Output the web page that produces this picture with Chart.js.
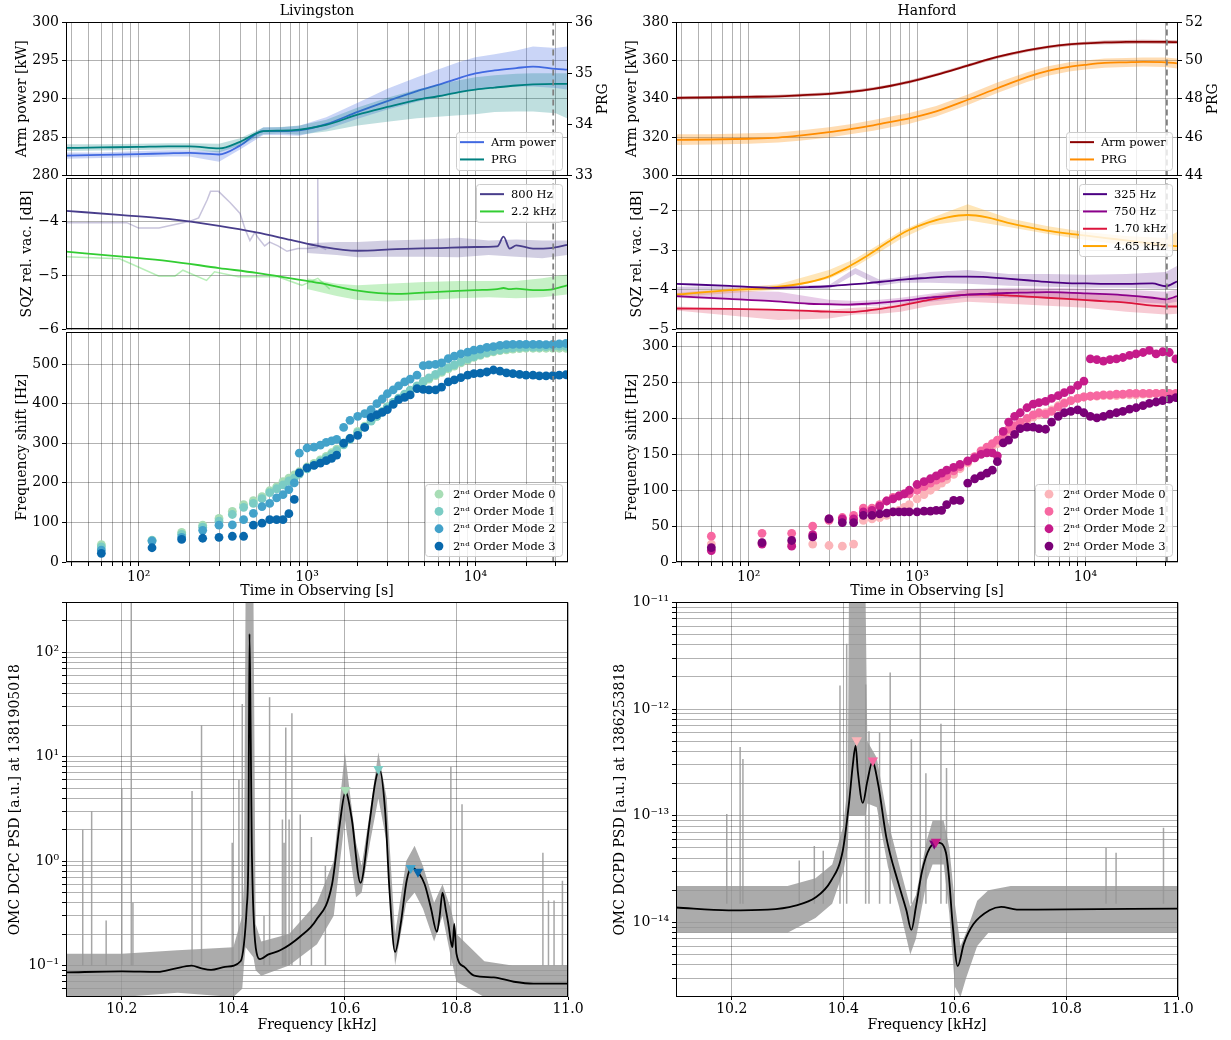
<!DOCTYPE html>
<html>
<head>
<meta charset="utf-8">
<script src="https://cdn.jsdelivr.net/npm/chart.js@4.4.1/dist/chart.umd.min.js"></script>
<style>
  html, body { margin: 0; padding: 0; background: #fff; }
  body { width: 1231px; height: 1040px; position: relative; overflow: hidden; }
  canvas { position: absolute; }
</style>
</head>
<body>
<canvas id="livPower"></canvas>
<canvas id="livSqz"></canvas>
<canvas id="livShift"></canvas>
<canvas id="livPsd"></canvas>
<canvas id="hanPower"></canvas>
<canvas id="hanSqz"></canvas>
<canvas id="hanShift"></canvas>
<canvas id="hanPsd"></canvas>
<script>
// ---------- time axis (shared by the six upper panels) ----------
const timeMin = 37, timeMax = 35500;
const timeTicks = [40, 50, 60, 70, 80, 90, 100, 200, 300, 400, 500, 600, 700, 800, 900,
  1000, 2000, 3000, 4000, 5000, 6000, 7000, 8000, 9000, 10000, 20000, 30000];
const livDashTime = 29000;
const hanDashTime = 30500;

// y tick values
const livPowerTicks = [280, 285, 290, 295, 300];
const livPrgTicks = [33, 34, 35, 36];
const livSqzTicks = [-6, -5, -4];
const livShiftTicks = [0, 100, 200, 300, 400, 500];
const hanPowerTicks = [300, 320, 340, 360, 380];
const hanPrgTicks = [44, 46, 48, 50, 52];
const hanSqzTicks = [-5, -4, -3, -2];
const hanShiftTicks = [0, 50, 100, 150, 200, 250, 300];

// ---------- arm power / PRG ----------
const tGrid = [37, 60, 100, 150, 200, 300, 400, 550, 700, 900, 1300, 2000, 3000, 4500, 6000, 8000, 10000, 13000, 17500, 22000, 30000, 35000];
const livArm   = [282.6, 282.7, 282.8, 282.9, 282.95, 282.75, 283.9, 285.8, 285.8, 285.9, 286.7, 288.3, 289.7, 291.0, 291.8, 292.7, 293.3, 293.7, 294.0, 294.2, 293.9, 293.8];
const livArmHi = [283.0, 283.0, 283.2, 283.3, 283.3, 283.2, 284.3, 286.3, 286.3, 286.5, 287.6, 289.5, 291.3, 292.8, 293.8, 294.8, 295.4, 295.8, 296.3, 296.8, 296.6, 296.8];
const livArmLo = [282.2, 282.3, 282.4, 282.5, 282.5, 281.8, 283.4, 285.3, 285.3, 285.2, 286.0, 287.4, 288.6, 289.6, 290.2, 290.8, 291.2, 291.4, 291.6, 291.6, 291.4, 291.2];
const livPrg   = [33.54, 33.55, 33.56, 33.57, 33.57, 33.53, 33.66, 33.87, 33.88, 33.9, 33.99, 34.19, 34.34, 34.48, 34.55, 34.63, 34.68, 34.72, 34.76, 34.78, 34.79, 34.79];
const livPrgHi = [33.61, 33.61, 33.62, 33.63, 33.63, 33.62, 33.73, 33.94, 33.95, 33.98, 34.09, 34.33, 34.52, 34.68, 34.78, 34.86, 34.92, 34.96, 34.99, 35.0, 35.0, 35.0];
const livPrgLo = [33.48, 33.49, 33.5, 33.51, 33.51, 33.45, 33.59, 33.81, 33.82, 33.8, 33.86, 33.98, 34.05, 34.12, 34.15, 34.18, 34.2, 34.24, 34.25, 34.25, 34.22, 34.12];

const hanArm   = [340.5, 340.7, 341.0, 341.3, 341.8, 342.6, 343.6, 345.2, 346.8, 348.8, 352.5, 357.3, 361.8, 365.2, 367.0, 368.3, 368.9, 369.4, 369.6, 369.7, 369.6, 369.5];
const hanArmHi = [341.3, 341.5, 341.8, 342.1, 342.6, 343.4, 344.4, 346.0, 347.6, 349.6, 353.3, 358.1, 362.6, 366.0, 367.8, 369.1, 369.7, 370.4, 370.6, 370.7, 370.6, 370.5];
const hanArmLo = [339.7, 339.9, 340.2, 340.5, 341.0, 341.8, 342.8, 344.4, 346.0, 348.0, 351.7, 356.5, 361.0, 364.4, 366.2, 367.5, 368.1, 368.4, 368.6, 368.7, 368.6, 368.5];
const hanPrg   = [45.86, 45.88, 45.92, 45.98, 46.08, 46.26, 46.42, 46.62, 46.8, 46.98, 47.35, 47.95, 48.55, 49.13, 49.45, 49.66, 49.77, 49.87, 49.9, 49.92, 49.9, 49.85];
const hanPrgHi = [46.15, 46.15, 46.2, 46.25, 46.35, 46.52, 46.68, 46.9, 47.08, 47.26, 47.62, 48.22, 48.85, 49.38, 49.7, 49.9, 50.0, 50.1, 50.12, 50.15, 50.15, 50.1];
const hanPrgLo = [45.6, 45.62, 45.66, 45.72, 45.82, 45.99, 46.15, 46.34, 46.52, 46.7, 47.08, 47.68, 48.3, 48.88, 49.2, 49.42, 49.52, 49.62, 49.66, 49.68, 49.65, 49.58];

// ---------- squeezing, Livingston ----------
const lSqzTime = [37, 80, 150, 300, 500, 800, 1200, 2000, 3400, 6000, 10000, 13500, 14700, 16000, 17500, 22000, 28000, 35000];
const l800  = [-3.80, -3.88, -3.95, -4.08, -4.20, -4.34, -4.46, -4.54, -4.51, -4.49, -4.47, -4.46, -4.28, -4.50, -4.44, -4.50, -4.49, -4.43];
const l2200 = [-4.555, -4.65, -4.73, -4.86, -4.95, -5.05, -5.14, -5.28, -5.34, -5.30, -5.27, -5.25, -5.23, -5.25, -5.24, -5.27, -5.26, -5.18];
const rawL800Time = [37, 85, 100, 132, 204, 227, 255, 267, 298, 350, 400, 430, 458, 490, 512, 560, 600, 672, 760, 883, 1000, 1150, 1155, 1160, 1165, 1300];
const rawL800 = [-4.02, -4.02, -4.12, -4.12, -3.99, -3.93, -3.6, -3.44, -3.44, -3.65, -3.85, -4.15, -4.35, -4.2, -4.3, -4.45, -4.38, -4.45, -4.55, -4.5, -4.5, -4.48, -3.1, -3.1, -4.45, -4.52];
const rawL2200Time = [37, 77, 90, 132, 164, 183, 253, 282, 391, 672, 931, 1159, 1365];
const rawL2200 = [-4.65, -4.69, -4.78, -5.01, -5.01, -4.9, -5.09, -4.93, -5.02, -5.02, -5.18, -5.05, -5.25];
const lBandTime = [1000, 1500, 2000, 3000, 5000, 8000, 12000, 17500, 25000, 35000];
const l800Hi  = [-4.4, -4.38, -4.38, -4.35, -4.33, -4.3, -4.35, -4.33, -4.35, -4.35];
const l800Lo  = [-4.58, -4.62, -4.66, -4.65, -4.65, -4.66, -4.62, -4.65, -4.68, -4.62];
const l2200Hi = [-5.05, -5.15, -5.18, -5.15, -5.12, -5.1, -5.1, -5.1, -5.05, -4.98];
const l2200Lo = [-5.25, -5.38, -5.45, -5.48, -5.45, -5.42, -5.4, -5.42, -5.4, -5.35];

// ---------- squeezing, Hanford ----------
const hSqzTime = [37, 77, 132, 227, 298, 391, 512, 672, 883, 1160, 1515, 1995, 2610, 3430, 4500, 5900, 7740, 10170, 13300, 17500, 25000, 30000, 35000];
const h325  = [-3.85, -3.90, -3.95, -3.93, -3.91, -3.87, -3.83, -3.78, -3.73, -3.70, -3.67, -3.67, -3.68, -3.72, -3.76, -3.80, -3.83, -3.84, -3.85, -3.85, -3.84, -3.91, -3.79];
const h750  = [-4.16, -4.23, -4.28, -4.35, -4.36, -4.37, -4.35, -4.31, -4.26, -4.20, -4.16, -4.12, -4.10, -4.08, -4.07, -4.06, -4.07, -4.09, -4.11, -4.14, -4.20, -4.24, -4.16];
const h1700 = [-4.47, -4.48, -4.50, -4.53, -4.55, -4.56, -4.52, -4.45, -4.36, -4.26, -4.18, -4.12, -4.12, -4.14, -4.17, -4.20, -4.23, -4.26, -4.29, -4.32, -4.40, -4.42, -4.42];
const h4650 = [-4.12, -4.01, -3.95, -3.81, -3.67, -3.42, -3.13, -2.80, -2.51, -2.31, -2.18, -2.12, -2.18, -2.31, -2.42, -2.51, -2.58, -2.64, -2.70, -2.76, -2.84, -2.88, -2.90];
const hBandTime = [37, 150, 300, 430, 600, 800, 1200, 2000, 3500, 6000, 10000, 17500, 30000, 35000];
const h325Hi  = [-3.92, -3.9, -3.88, -3.45, -3.75, -3.68, -3.55, -3.5, -3.6, -3.6, -3.62, -3.6, -3.55, -3.4];
const h325Lo  = [-3.98, -3.98, -3.98, -3.6, -3.9, -3.82, -3.82, -3.85, -3.9, -3.92, -3.95, -3.95, -3.98, -3.95];
const h750Hi  = [-4.0, -4.05, -4.25, -4.28, -4.25, -4.2, -4.1, -3.98, -3.95, -3.95, -3.97, -4.0, -4.05, -4.0];
const h750Lo  = [-4.2, -4.3, -4.4, -4.4, -4.4, -4.35, -4.3, -4.2, -4.2, -4.22, -4.25, -4.3, -4.35, -4.3];
const h1700Hi = [-4.42, -4.5, -4.5, -4.45, -4.42, -4.35, -4.15, -4.0, -4.0, -4.02, -4.08, -4.12, -4.2, -4.2];
const h1700Lo = [-4.52, -4.76, -4.72, -4.62, -4.6, -4.55, -4.4, -4.3, -4.35, -4.4, -4.45, -4.55, -4.62, -4.6];
const h4650Hi = [-4.08, -3.86, -3.5, -3.22, -2.85, -2.52, -2.2, -1.85, -2.2, -2.4, -2.55, -2.65, -2.7, -2.55];
const h4650Lo = [-4.18, -4.0, -3.72, -3.42, -3.05, -2.72, -2.38, -2.25, -2.42, -2.6, -2.75, -2.88, -2.95, -3.02];

// ---------- mode frequency shifts ----------
const shiftTime = [60, 120, 180, 240, 300, 360, 420, 480, 540, 600, 660, 720, 780, 840,
  900, 1000, 1100, 1200, 1300, 1400, 1500, 1650, 1800, 2000,
  2200, 2400, 2600, 2800, 3000, 3250, 3500, 3800, 4100, 4500,
  4900, 5300, 5800, 6300, 6900, 7500, 8200, 9000, 9800, 10700,
  11700, 12800, 14000, 15300, 16700, 18300, 20000, 22000, 24000, 26300,
  28800, 31500, 34500];
const modeLabels = ['2\u207F\u1D48 Order Mode 0', '2\u207F\u1D48 Order Mode 1', '2\u207F\u1D48 Order Mode 2', '2\u207F\u1D48 Order Mode 3'];
const livModeColors = ['#a8ddb5', '#7bccc4', '#43a2ca', '#0868ac'];
const hanModeColors = ['#fbb4b9', '#f768a1', '#c51b8a', '#7a0177'];
const livM0 = [44, 55, 75, 93, 110, 128, 145, 155, 165, 180, 190, 203, 212, 220,
  228, 240, 249, 258, 267, 276, 285, 300, 313, 330, 343, 357, 368, 380, 392, 403, 413, 422, 432, 443,
  454, 462, 471, 479, 488, 495, 503, 510, 517, 522, 527, 531, 534, 536, 538, 539, 540, 540, 540, 540, 540, 540, 540];
const livM1 = [38, 54, 70, 88, 103, 120, 138, 148, 160, 175, 185, 195, 205, 212,
  222, 235, 245, 254, 263, 272, 281, 296, 310, 327, 341, 356, 368, 380, 392, 403, 414, 424, 434, 445,
  456, 465, 474, 482, 491, 498, 506, 513, 519, 524, 529, 533, 536, 539, 541, 542, 543, 543, 543, 544, 544, 545, 545];
const livM2 = [30, 53, 62, 80, 93, 94, 107, 123, 140, 148, 162, 170, 183, 200,
  275, 288, 290, 295, 302, 306, 310, 340, 358, 368, 375, 385, 400, 412, 425, 435, 445, 455, 462, 472,
  496, 498, 499, 503, 514, 520, 526, 530, 535, 538, 542, 544, 547, 549, 550, 550, 550, 550, 550, 549, 550, 551, 552];
const livM3 = [22, 36, 57, 60, 62, 65, 65, 93, 98, 107, 107, 107, 122, 158,
  225, 238, 244, 250, 256, 262, 270, 300, 312, 320, 340, 365, 372, 378, 385, 398, 410, 416, 422, 438,
  436, 435, 435, 442, 455, 460, 466, 472, 476, 477, 480, 485, 482, 478, 476, 474, 472, 472, 470, 470, 471, 472, 473];
const hanM0 = [25, 27, 25, 25, 23, 22, 25, 58, 60, 62, 65, 70, 72, 76,
  80, 88, 94, 100, 105, 110, 115, 122, 130, 138, 145, 152, 157, 161, 165, 172, 180, 186, 190, 196,
  202, 205, 208, 212, 218, 222, 225, 228, 230, 231, 231, 232, 232, 232, 233, 233, 233, 234, 234, 235, 235, 234, 232];
const hanM1 = [36, 40, 40, 50, 58, 62, 65, 75, 75, 80, 85, 90, 92, 95,
  95, 100, 105, 110, 114, 117, 120, 127, 133, 140, 147, 155, 160, 165, 170, 177, 185, 190, 195, 200,
  205, 208, 206, 210, 216, 221, 225, 228, 230, 231, 232, 233, 233, 234, 234, 235, 235, 235, 235, 235, 235, 235, 235];
const hanM2 = [16, 25, 22, 38, 60, 60, 60, 70, 72, 78, 85, 88, 92, 95,
  100, 108, 112, 116, 120, 124, 128, 132, 136, 141, 145, 150, 152, 152, 148, 182, 195, 203, 208, 215,
  220, 222, 224, 228, 232, 236, 240, 246, 252, 283, 282, 280, 282, 283, 285, 288, 290, 292, 295, 290, 293, 292, 283];
const hanM3 = [20, 27, 30, 35, 60, 55, 55, 65, 65, 67, 68, 70, 70, 70,
  70, 70, 71, 71, 72, 72, 80, 86, 86, 110, 116, 120, 124, 128, 140, 166, 170, 178, 186, 188,
  188, 186, 185, 195, 203, 208, 210, 212, 208, 203, 201, 203, 206, 208, 210, 213, 215, 218, 221, 223, 225, 227, 229];

// ---------- OMC PSD ----------
const freqTicks = [10.2, 10.4, 10.6, 10.8, 11.0];
const psdTicksL = [0.06, 0.07, 0.08, 0.09, 0.1, 0.2, 0.3, 0.4, 0.5, 0.6, 0.7, 0.8, 0.9,
  1, 2, 3, 4, 5, 6, 7, 8, 9, 10, 20, 30, 40, 50, 60, 70, 80, 90, 100, 200, 300];
const psdTicksR = [3e-15, 4e-15, 5e-15, 6e-15, 7e-15, 8e-15, 9e-15,
  1e-14, 2e-14, 3e-14, 4e-14, 5e-14, 6e-14, 7e-14, 8e-14, 9e-14,
  1e-13, 2e-13, 3e-13, 4e-13, 5e-13, 6e-13, 7e-13, 8e-13, 9e-13,
  1e-12, 2e-12, 3e-12, 4e-12, 5e-12, 6e-12, 7e-12, 8e-12, 9e-12, 1e-11];

const psdFreqL = [10.1, 10.2, 10.265, 10.293, 10.325, 10.343, 10.36, 10.385, 10.413, 10.419, 10.424, 10.427, 10.429, 10.431, 10.433, 10.437, 10.442, 10.448, 10.463, 10.484,
  10.52, 10.548, 10.577, 10.591, 10.601, 10.612, 10.628, 10.644, 10.655, 10.662, 10.672, 10.68, 10.69, 10.7, 10.711, 10.72, 10.733, 10.743, 10.754, 10.765,
  10.77, 10.775, 10.781, 10.786, 10.79, 10.793, 10.796, 10.8, 10.814, 10.832, 10.867, 10.903, 10.938, 11.0];
const psdSmoothL = [0.086, 0.088, 0.087, 0.093, 0.1, 0.094, 0.091, 0.097, 0.11, 0.16, 0.36, 1.2, 150, 20, 1.5, 0.25, 0.13, 0.115, 0.128, 0.14,
  0.19, 0.27, 0.6, 2.3, 4.6, 2.6, 0.62, 2.3, 5.9, 7.6, 3.1, 0.52, 0.135, 0.25, 0.66, 0.87, 0.76, 0.6, 0.36, 0.21,
  0.3, 0.5, 0.34, 0.24, 0.17, 0.15, 0.25, 0.13, 0.097, 0.08, 0.077, 0.07, 0.067, 0.067];
const bandFreqL = [10.1, 10.2, 10.3, 10.4, 10.416, 10.419, 10.422, 10.436, 10.44, 10.45, 10.5, 10.55, 10.58, 10.6, 10.62, 10.63, 10.645, 10.66, 10.675, 10.69, 10.71, 10.725, 10.74, 10.76, 10.775, 10.79, 10.8, 10.85, 10.9, 11.0];
const bandHiL = [0.13, 0.13, 0.14, 0.15, 0.3, 0.6, 400, 400, 0.25, 0.17, 0.2, 0.4, 1.0, 11, 1.5, 0.9, 3, 11, 4, 0.2, 1.0, 1.4, 0.9, 0.4, 0.6, 0.35, 0.2, 0.11, 0.1, 0.1];
const bandLoL = [0.05, 0.05, 0.055, 0.05, 0.06, 0.1, 0.15, 0.12, 0.09, 0.08, 0.1, 0.16, 0.3, 2.5, 0.45, 0.5, 1.5, 4, 1.5, 0.1, 0.4, 0.5, 0.35, 0.17, 0.3, 0.12, 0.07, 0.05, 0.05, 0.05];
const spikeFreqL = [10.13, 10.146, 10.172, 10.2, 10.217, 10.22, 10.326, 10.343, 10.398, 10.41, 10.416, 10.455, 10.465, 10.488, 10.491, 10.494, 10.5, 10.505, 10.52, 10.54, 10.565, 10.79, 10.81, 10.955, 10.965, 10.975, 10.99];
const spikeTopL = [2.0, 3.0, 0.27, 5.0, 300, 0.4, 4.7, 20, 1.5, 6, 32, 0.3, 37, 2.5, 1.5, 19, 2.5, 26, 2.8, 1.7, 0.9, 8, 3.5, 1.2, 0.42, 0.42, 0.65];
const modeFreqL = [10.601, 10.66, 10.718, 10.731];
const modePsdL = [4.8, 7.6, 0.86, 0.79];

const psdFreqR = [10.1, 10.194, 10.265, 10.314, 10.35, 10.378, 10.399, 10.41, 10.417, 10.422, 10.426, 10.435, 10.443, 10.452, 10.463, 10.477, 10.499,
  10.513, 10.522, 10.53, 10.541, 10.555, 10.57, 10.584, 10.589, 10.596, 10.605, 10.616, 10.633, 10.662, 10.683, 10.711, 10.747, 11.0];
const psdSmoothR = [1.38e-14, 1.3e-14, 1.32e-14, 1.44e-14, 1.71e-14, 2.46e-14, 4.7e-14, 1.29e-13, 3.0e-13, 4.55e-13, 2.6e-13, 1.32e-13, 2.1e-13, 3.2e-13, 1.9e-13, 6.3e-14, 2.3e-14,
  1.3e-14, 8.5e-15, 1.38e-14, 3.0e-14, 5.0e-14, 5.6e-14, 4.5e-14, 2.8e-14, 9.6e-15, 3.9e-15, 6.3e-15, 9.6e-15, 1.3e-14, 1.4e-14, 1.32e-14, 1.32e-14, 1.35e-14];
const bandFreqR = [10.1, 10.3, 10.35, 10.38, 10.4, 10.408, 10.41, 10.44, 10.443, 10.46, 10.48, 10.5, 10.52, 10.53, 10.55, 10.56, 10.58, 10.59, 10.6, 10.61, 10.62, 10.64, 10.66, 10.7, 11.0];
const bandHiR = [2.2e-14, 2.2e-14, 2.6e-14, 3.5e-14, 8e-14, 2e-13, 1e-11, 1e-11, 5e-13, 3.5e-13, 9e-14, 3.5e-14, 1.4e-14, 1.8e-14, 6e-14, 9e-14, 9e-14, 5e-14, 1.5e-14, 6e-15, 8e-15, 1.6e-14, 2e-14, 2.2e-14, 2.2e-14];
const bandLoR = [8e-15, 8e-15, 1.1e-14, 1.5e-14, 3e-14, 5e-14, 1e-13, 1e-13, 1.3e-13, 1.2e-13, 3.3e-14, 1.4e-14, 5e-15, 7e-15, 2.5e-14, 3.5e-14, 3.5e-14, 1.2e-14, 2.5e-15, 2e-15, 3e-15, 6e-15, 8e-15, 8e-15, 8e-15];
const spikeFreqR = [10.191, 10.215, 10.22, 10.321, 10.348, 10.364, 10.394, 10.406, 10.44, 10.446, 10.465, 10.484, 10.522, 10.538, 10.548, 10.575, 10.585, 10.871, 10.889, 10.974];
const spikeTopR = [1.04e-13, 4.4e-13, 3.4e-13, 3.8e-14, 5.2e-14, 4.7e-14, 1.66e-12, 4.1e-12, 1.7e-12, 6.2e-13, 6e-13, 2.2e-12, 5.2e-13, 1e-11, 2.5e-13, 7.3e-13, 2.8e-13, 5e-14, 4.5e-14, 7.7e-14];
const modeFreqR = [10.424, 10.453, 10.566, 10.563];
const modePsdR = [5.1e-13, 3.3e-13, 5.7e-14, 5.5e-14];

// ---------- helpers ----------
Chart.defaults.font.family = '"DejaVu Serif", serif';
Chart.defaults.font.size = 14;
Chart.defaults.color = '#000';

const GRID = 'rgba(0,0,0,0.3)';
const NONE = 'rgba(0,0,0,0)';
const SUP = {'-': '\u207B', '0': '\u2070', '1': '\u00B9', '2': '\u00B2', '3': '\u00B3', '4': '\u2074',
  '5': '\u2075', '6': '\u2076', '7': '\u2077', '8': '\u2078', '9': '\u2079'};

const pts = (xs, ys) => xs.map((x, i) => ({x, y: ys[i]}));
const minus = v => (v < 0 ? '\u2212' + Math.abs(v) : String(v));
function powLabel(v) {
  const e = Math.log10(v), r = Math.round(e);
  if (Math.abs(e - r) > 1e-6) return '';
  return '10' + String(r).split('').map(c => SUP[c]).join('');
}

function band(xs, hi, lo, color, axis, order) {
  return [
    {data: pts(xs, hi), yAxisID: axis, borderWidth: 0, borderColor: NONE, pointRadius: 0, backgroundColor: color, fill: '+1', order},
    {data: pts(xs, lo), yAxisID: axis, borderWidth: 0, borderColor: NONE, pointRadius: 0, fill: false, order}
  ];
}
function line(label, xs, ys, color, axis, order, inLegend) {
  return {label, data: pts(xs, ys), yAxisID: axis, borderColor: color, backgroundColor: color, borderWidth: 1.8,
    pointRadius: 0, cubicInterpolationMode: 'monotone', fill: false, order, legendType: inLegend ? 'line' : undefined};
}
function faint(xs, ys, color, axis, order) {
  return {data: pts(xs, ys), yAxisID: axis, borderColor: color, borderWidth: 1.5, pointRadius: 0, fill: false, order};
}
function dash(t, y0, y1, axis) {
  return {data: [{x: t, y: y0}, {x: t, y: y1}], yAxisID: axis, borderColor: '#808080', borderWidth: 1.8,
    borderDash: [6, 4], pointRadius: 0, fill: false, order: 0};
}
function shiftDs(label, ys, color, order) {
  return {label, data: pts(shiftTime, ys), yAxisID: 'y', showLine: false, pointRadius: 4.4, pointBorderWidth: 0,
    pointBackgroundColor: color, backgroundColor: color, borderColor: color, legendType: 'dot', order};
}
function spikes(fs, tops, base, axis) {
  const data = [];
  fs.forEach((f, i) => { data.push({x: f, y: base}, {x: f, y: tops[i]}, {x: f, y: null}); });
  return {data, yAxisID: axis, borderColor: 'rgba(150,150,150,0.85)', borderWidth: 1.5, pointRadius: 0, fill: false, order: 3};
}
function markers(fs, vs, colors) {
  return fs.map((f, i) => ({data: [{x: f, y: vs[i]}], yAxisID: 'y', showLine: false, pointStyle: 'triangle',
    pointRotation: 180, pointRadius: 6, pointBorderWidth: 0, pointBackgroundColor: colors[i], order: 0}));
}

// ---------- axes ----------
function timeX(labels) {
  return {
    type: 'logarithmic', min: timeMin, max: timeMax, bounds: 'data',
    afterBuildTicks: s => { s.ticks = timeTicks.map(v => ({value: v})); },
    afterFit: s => { s.height = labels ? 38 : 0; },
    grid: {color: GRID, tickColor: '#000', tickLength: 4, drawTicks: labels},
    border: {display: false},
    ticks: {display: labels, autoSkip: false, maxRotation: 0, padding: 3, callback: v => powLabel(v)},
    title: {display: labels, text: 'Time in Observing [s]', padding: {top: 0, bottom: 0}}
  };
}
function yLin(min, max, tickVals, title, pad, width, pos) {
  const right = pos === 'right';
  return {
    type: 'linear', position: pos || 'left', min, max, bounds: 'data',
    afterBuildTicks: s => { s.ticks = tickVals.map(v => ({value: v})); },
    afterFit: s => { s.width = width; },
    ticks: {autoSkip: false, padding: 3, callback: v => minus(v)},
    grid: {color: GRID, tickColor: '#000', tickLength: 4, drawOnChartArea: !right},
    border: {display: false},
    title: {display: !!title, text: title || '', padding: {top: pad, bottom: 0}}
  };
}
function xFreq() {
  return {
    type: 'linear', min: 10.1, max: 11.0, bounds: 'data',
    afterBuildTicks: s => { s.ticks = freqTicks.map(v => ({value: v})); },
    afterFit: s => { s.height = 40; },
    grid: {color: GRID, tickColor: '#000', tickLength: 3},
    border: {display: false},
    ticks: {autoSkip: false, maxRotation: 0, padding: 1, callback: v => v.toFixed(1)},
    title: {display: true, text: 'Frequency [kHz]', padding: {top: 0, bottom: 3.6}}
  };
}
function yLog(min, max, ticksArr, title, pad, width) {
  return {
    type: 'logarithmic', min, max, bounds: 'data',
    afterBuildTicks: s => { s.ticks = ticksArr.map(v => ({value: v})); },
    afterFit: s => { s.width = width; },
    grid: {color: GRID, tickColor: '#000', tickLength: 4},
    border: {display: false},
    ticks: {autoSkip: false, padding: 3, callback: v => powLabel(v)},
    title: {display: true, text: title, padding: {top: pad, bottom: 0}}
  };
}

// ---------- frame, inner legend, right-hand label ----------
function drawLegend(chart, corner) {
  const {ctx, chartArea: a} = chart;
  const items = chart.data.datasets.filter(d => d.legendType);
  if (!items.length) return;
  ctx.save();
  ctx.font = '11.5px "DejaVu Serif"';
  const textW = Math.max(...items.map(d => ctx.measureText(d.label).width));
  const dot = items[0].legendType === 'dot';
  const textX = dot ? 28 : 35;
  const rowH = 17.3;
  const w = Math.round(textX + textW + 6), h = Math.round(items.length * rowH + 3);
  const x = Math.round(a.right - 6 - w);
  const y = Math.round(corner === 'tr' ? a.top + 6 : a.bottom - 6 - h);
  ctx.beginPath();
  ctx.roundRect(x + 0.5, y + 0.5, w, h, 3);
  ctx.fillStyle = 'rgba(255,255,255,0.8)';
  ctx.fill();
  ctx.strokeStyle = '#cccccc';
  ctx.lineWidth = 1;
  ctx.stroke();
  ctx.textBaseline = 'middle';
  ctx.textAlign = 'left';
  items.forEach((d, i) => {
    const cy = y + 1.5 + rowH * (i + 0.5);
    if (dot) {
      ctx.beginPath();
      ctx.arc(x + 14, cy, 4.4, 0, Math.PI * 2);
      ctx.fillStyle = d.backgroundColor;
      ctx.fill();
    } else {
      ctx.beginPath();
      ctx.moveTo(x + 4, cy);
      ctx.lineTo(x + 28, cy);
      ctx.strokeStyle = d.borderColor;
      ctx.lineWidth = 2;
      ctx.stroke();
    }
    ctx.fillStyle = '#000';
    ctx.fillText(d.label, x + textX, cy + 0.5);
  });
  ctx.restore();
}

const framePlugin = {
  id: 'frame',
  afterDatasetsDraw(chart, args, opts) {
    const {ctx, chartArea: a} = chart;
    ctx.save();
    ctx.strokeStyle = '#000';
    ctx.lineWidth = 1;
    ctx.strokeRect(Math.round(a.left) + 0.5, Math.round(a.top) + 0.5, Math.round(a.right - a.left) - 1, Math.round(a.bottom - a.top) - 1);
    if (opts.rightTitle) {
      ctx.translate(a.right + 35, (a.top + a.bottom) / 2);
      ctx.rotate(-Math.PI / 2);
      ctx.font = '14px "DejaVu Serif"';
      ctx.fillStyle = '#000';
      ctx.textAlign = 'center';
      ctx.textBaseline = 'middle';
      ctx.fillText(opts.rightTitle, 0, 0);
    }
    ctx.restore();
    if (opts.legend) drawLegend(chart, opts.legend);
  }
};

// ---------- layout ----------
const COLS = {
  left:  {x: 0,   w: 615, yw: 66, rw: 47},
  right: {x: 605, w: 626, yw: 71, rw: 53}
};
const ROWS = {
  power: {y: 0,   h: 187, top: 0,  bottom: 10},
  sqz:   {y: 167, h: 174, top: 10, bottom: 10},
  shift: {y: 321, h: 279, top: 10, bottom: 0},
  psd:   {y: 591, h: 446, top: 10, bottom: 0}
};

function makeChart(id, col, row, datasets, scales, extra) {
  const c = document.getElementById(id);
  c.width = col.w;
  c.height = row.h;
  Object.assign(c.style, {left: col.x + 'px', top: row.y + 'px', width: col.w + 'px', height: row.h + 'px'});
  return new Chart(c, {
    type: 'line',
    data: {datasets},
    options: {
      responsive: false,
      animation: false,
      layout: {padding: {top: row.top, bottom: row.bottom, left: 0, right: scales.y2 ? 0 : col.rw}},
      scales,
      plugins: {
        legend: {display: false},
        tooltip: {enabled: false},
        title: extra.title
          ? {display: true, text: extra.title, fullSize: false, color: '#000', font: {size: 14, weight: 'normal'}, padding: {top: 3, bottom: 2.2}}
          : {display: false},
        frame: {legend: extra.legend, rightTitle: extra.rightTitle}
      }
    },
    plugins: [framePlugin]
  });
}

// ---------- Livingston ----------
makeChart('livPower', COLS.left, ROWS.power, [
  ...band(tGrid, livArmHi, livArmLo, 'rgba(65,105,225,0.28)', 'y', 4),
  line('Arm power', tGrid, livArm, '#4169e1', 'y', 3, true),
  ...band(tGrid, livPrgHi, livPrgLo, 'rgba(0,128,128,0.25)', 'y2', 2),
  line('PRG', tGrid, livPrg, '#008080', 'y2', 1, true),
  dash(livDashTime, 280, 300, 'y')
], {
  x: timeX(false),
  y: yLin(280, 300, livPowerTicks, 'Arm power [kW]', 13.6, COLS.left.yw),
  y2: yLin(33, 36, livPrgTicks, null, 0, COLS.left.rw, 'right')
}, {title: 'Livingston', legend: 'br', rightTitle: 'PRG'});

makeChart('livSqz', COLS.left, ROWS.sqz, [
  ...band(lBandTime, l800Hi, l800Lo, 'rgba(72,61,139,0.25)', 'y', 4),
  faint(rawL800Time, rawL800, 'rgba(72,61,139,0.3)', 'y', 4),
  ...band(lBandTime, l2200Hi, l2200Lo, 'rgba(50,205,50,0.28)', 'y', 4),
  faint(rawL2200Time, rawL2200, 'rgba(50,205,50,0.35)', 'y', 4),
  line('800 Hz', lSqzTime, l800, '#483d8b', 'y', 1, true),
  line('2.2 kHz', lSqzTime, l2200, '#32cd32', 'y', 1, true),
  dash(livDashTime, -6, -3.2, 'y')
], {
  x: timeX(false),
  y: yLin(-6, -3.2, livSqzTicks, 'SQZ rel. vac. [dB]', 18.6, COLS.left.yw)
}, {legend: 'tr'});

makeChart('livShift', COLS.left, ROWS.shift, [
  shiftDs(modeLabels[0], livM0, livModeColors[0], 4),
  shiftDs(modeLabels[1], livM1, livModeColors[1], 3),
  shiftDs(modeLabels[2], livM2, livModeColors[2], 2),
  shiftDs(modeLabels[3], livM3, livModeColors[3], 1),
  dash(livDashTime, 0, 580, 'y')
], {
  x: timeX(true),
  y: yLin(0, 580, livShiftTicks, 'Frequency shift [Hz]', 13.6, COLS.left.yw)
}, {legend: 'br'});

makeChart('livPsd', COLS.left, ROWS.psd, [
  ...band(bandFreqL, bandHiL, bandLoL, 'rgba(150,150,150,0.8)', 'y', 4),
  spikes(spikeFreqL, spikeTopL, 0.1, 'y'),
  line('', psdFreqL, psdSmoothL, '#000', 'y', 1, false),
  ...markers(modeFreqL, modePsdL, livModeColors)
], {
  x: xFreq(),
  y: yLog(0.05, 300, psdTicksL, 'OMC DCPC PSD [a.u.] at 1381905018', 6.6, COLS.left.yw)
}, {});

// ---------- Hanford ----------
makeChart('hanPower', COLS.right, ROWS.power, [
  ...band(tGrid, hanArmHi, hanArmLo, 'rgba(139,0,0,0.3)', 'y', 4),
  line('Arm power', tGrid, hanArm, '#8b0000', 'y', 3, true),
  ...band(tGrid, hanPrgHi, hanPrgLo, 'rgba(255,140,0,0.3)', 'y2', 2),
  line('PRG', tGrid, hanPrg, '#ff8c00', 'y2', 1, true),
  dash(hanDashTime, 300, 380, 'y')
], {
  x: timeX(false),
  y: yLin(300, 380, hanPowerTicks, 'Arm power [kW]', 18.6, COLS.right.yw),
  y2: yLin(44, 52, hanPrgTicks, null, 0, COLS.right.rw, 'right')
}, {title: 'Hanford', legend: 'br', rightTitle: 'PRG'});

makeChart('hanSqz', COLS.right, ROWS.sqz, [
  ...band(hBandTime, h325Hi, h325Lo, 'rgba(75,0,130,0.2)', 'y', 4),
  ...band(hBandTime, h750Hi, h750Lo, 'rgba(139,0,139,0.2)', 'y', 4),
  ...band(hBandTime, h1700Hi, h1700Lo, 'rgba(220,20,60,0.22)', 'y', 4),
  ...band(hBandTime, h4650Hi, h4650Lo, 'rgba(255,165,0,0.28)', 'y', 4),
  line('325 Hz', hSqzTime, h325, '#4b0082', 'y', 1, true),
  line('750 Hz', hSqzTime, h750, '#8b008b', 'y', 1, true),
  line('1.70 kHz', hSqzTime, h1700, '#dc143c', 'y', 1, true),
  line('4.65 kHz', hSqzTime, h4650, '#ffa500', 'y', 1, true),
  dash(hanDashTime, -5, -1.2, 'y')
], {
  x: timeX(false),
  y: yLin(-5, -1.2, hanSqzTicks, 'SQZ rel. vac. [dB]', 23.6, COLS.right.yw)
}, {legend: 'tr'});

makeChart('hanShift', COLS.right, ROWS.shift, [
  shiftDs(modeLabels[0], hanM0, hanModeColors[0], 4),
  shiftDs(modeLabels[1], hanM1, hanModeColors[1], 3),
  shiftDs(modeLabels[2], hanM2, hanModeColors[2], 2),
  shiftDs(modeLabels[3], hanM3, hanModeColors[3], 1),
  dash(hanDashTime, 0, 320, 'y')
], {
  x: timeX(true),
  y: yLin(0, 320, hanShiftTicks, 'Frequency shift [Hz]', 18.6, COLS.right.yw)
}, {legend: 'br'});

makeChart('hanPsd', COLS.right, ROWS.psd, [
  ...band(bandFreqR, bandHiR, bandLoR, 'rgba(150,150,150,0.8)', 'y', 4),
  spikes(spikeFreqR, spikeTopR, 1.5e-14, 'y'),
  line('', psdFreqR, psdSmoothR, '#000', 'y', 1, false),
  ...markers(modeFreqR, modePsdR, hanModeColors)
], {
  x: xFreq(),
  y: yLog(2e-15, 1e-11, psdTicksR, 'OMC DCPD PSD [a.u.] at 1386253818', 6.6, COLS.right.yw)
}, {});
</script>
</body>
</html>
